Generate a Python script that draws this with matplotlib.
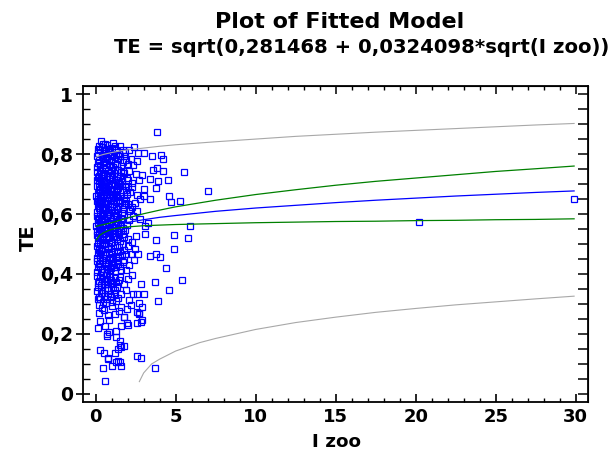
import matplotlib
matplotlib.use("Agg")
import matplotlib.pyplot as plt
from matplotlib.ticker import MultipleLocator, FuncFormatter

i_zoo = [
    0.12, 0.27, 0.69, 1.00, 1.54, 1.70, 2.40, 2.66, 0.35, 0.50, 0.85, 1.25, 0.20, 0.60, 1.10, 3.00, 0.45, 1.85, 3.85,
    0.10, 0.22, 0.38, 0.55, 0.70, 0.90, 1.05, 1.20, 1.40, 1.60, 1.80, 2.00, 2.56, 3.50, 4.10, 4.20, 0.30, 0.65, 0.15,
    0.48, 1.30, 2.20, 0.95, 1.70, 0.08, 2.35, 3.85, 0.80,
    0.10, 0.18, 0.28, 0.40, 0.52, 0.63, 0.75, 0.88, 1.00, 1.12, 1.25, 1.38, 1.50, 1.65, 1.80, 1.95, 2.10, 2.30, 2.50,
    2.90, 3.40, 3.90, 4.50, 5.50, 3.56, 4.20, 0.07, 0.34, 0.58, 0.82, 1.05, 1.45, 2.70, 0.22, 0.46, 0.95, 1.32, 1.72,
    2.05,
    0.09, 0.16, 0.25, 0.33, 0.42, 0.50, 0.60, 0.70, 0.80, 0.90, 1.00, 1.10, 1.20, 1.30, 1.42, 1.55, 1.68, 1.82, 1.96,
    2.14, 2.30, 2.60, 3.00, 3.00, 2.77, 3.40, 3.77, 4.58, 7.00, 0.05, 0.20, 0.38, 0.55, 0.66, 0.85, 0.97, 1.15, 1.36,
    1.50, 1.75, 2.00, 0.12, 0.28, 0.47, 0.74, 1.05,
    0.07, 0.15, 0.24, 0.30, 0.40, 0.48, 0.57, 0.66, 0.75, 0.84, 0.93, 1.02, 1.13, 1.25, 1.37, 1.50, 1.63, 1.78, 1.92,
    2.08, 2.27, 2.14, 2.45, 4.70, 5.30, 0.10, 0.20, 0.35, 0.52, 0.70, 0.88, 1.08, 1.20, 1.43, 1.70, 2.00, 2.60, 0.44,
    0.62,
    0.08, 0.14, 0.22, 0.30, 0.38, 0.46, 0.55, 0.64, 0.73, 0.82, 0.92, 1.02, 1.12, 1.24, 1.36, 1.50, 1.64, 1.80, 1.95,
    2.10, 2.80, 3.06, 5.90, 20.20, 0.05, 0.18, 0.26, 0.42, 0.60, 0.78, 0.97, 1.18, 1.42, 1.72, 2.35, 3.30,
    0.06, 0.12, 0.20, 0.28, 0.36, 0.45, 0.54, 0.63, 0.72, 0.82, 0.92, 1.02, 1.13, 1.25, 1.38, 1.52, 1.68, 1.85, 2.00,
    2.25, 2.50, 3.08, 3.77, 4.90, 5.75, 0.16, 0.40, 0.58, 0.77, 0.97, 1.20, 1.60, 0.10,
    0.07, 0.14, 0.22, 0.30, 0.38, 0.47, 0.56, 0.66, 0.76, 0.86, 0.97, 1.08, 1.20, 1.33, 1.47, 1.62, 1.80, 2.00, 2.20,
    2.46, 2.66, 3.40, 3.77, 4.00, 4.90, 0.10, 0.25, 0.50, 0.90, 1.40, 1.70,
    0.08, 0.15, 0.24, 0.33, 0.42, 0.52, 0.62, 0.73, 0.84, 0.95, 1.07, 1.20, 1.35, 1.50, 1.68, 1.90, 2.10, 2.40, 4.40,
    0.11, 0.30, 0.68, 1.00, 1.28, 1.80,
    0.09, 0.17, 0.26, 0.36, 0.46, 0.57, 0.68, 0.80, 0.92, 1.05, 1.20, 1.36, 1.55, 1.75, 2.00, 2.83, 3.70, 5.40, 0.13,
    0.50, 1.10, 2.30,
    0.10, 0.20, 0.32, 0.45, 0.58, 0.72, 0.88, 1.05, 1.22, 1.40, 1.60, 2.10, 2.35, 2.60, 3.00, 4.56, 3.90, 0.23, 1.30,
    2.70, 0.15, 0.65, 1.90,
    1.60, 1.44, 1.94, 2.58, 2.70, 2.90, 1.77, 1.80, 2.70, 0.40, 0.75, 1.00, 0.20, 1.20, 2.20, 0.55,
    0.27, 0.83, 1.97, 2.85, 2.60, 2.00, 1.30, 0.70, 0.58, 0.83, 2.90, 0.15, 1.60,
    0.69, 1.30, 1.50, 1.54, 1.80, 1.40, 1.60,
    0.25, 0.54, 1.20, 0.80, 0.77, 2.56, 2.83, 1.40, 1.27, 1.50, 1.00, 0.44, 1.56, 3.70, 0.60, 29.90,
]
te = [
    0.805, 0.813, 0.830, 0.821, 0.827, 0.813, 0.822, 0.802, 0.842, 0.815, 0.808, 0.812, 0.826, 0.803, 0.838, 0.804,
    0.834, 0.806, 0.874,
    0.792, 0.781, 0.797, 0.774, 0.788, 0.762, 0.795, 0.771, 0.784, 0.759, 0.792, 0.768, 0.777, 0.794, 0.797, 0.785,
    0.765, 0.756, 0.771, 0.787, 0.797, 0.783, 0.778, 0.775, 0.758, 0.763, 0.755, 0.799,
    0.741, 0.728, 0.746, 0.719, 0.735, 0.708, 0.744, 0.724, 0.703, 0.738, 0.715, 0.748, 0.727, 0.709, 0.736, 0.721,
    0.745, 0.705, 0.732, 0.730, 0.717, 0.710, 0.713, 0.739, 0.747, 0.742, 0.712, 0.702, 0.749, 0.716, 0.731, 0.704,
    0.714, 0.711, 0.730, 0.747, 0.727, 0.744, 0.712,
    0.692, 0.671, 0.684, 0.657, 0.698, 0.664, 0.680, 0.652, 0.694, 0.668, 0.683, 0.655, 0.697, 0.673, 0.688, 0.661,
    0.679, 0.694, 0.666, 0.675, 0.689, 0.662, 0.684, 0.659, 0.650, 0.650, 0.688, 0.660, 0.676, 0.661, 0.699, 0.677,
    0.691, 0.667, 0.656, 0.699, 0.679, 0.657, 0.699, 0.652, 0.691, 0.651, 0.665, 0.652, 0.689, 0.668,
    0.642, 0.628, 0.647, 0.612, 0.635, 0.603, 0.644, 0.621, 0.638, 0.607, 0.646, 0.625, 0.612, 0.641, 0.618, 0.636,
    0.605, 0.629, 0.645, 0.611, 0.623, 0.617, 0.637, 0.640, 0.642, 0.606, 0.619, 0.648, 0.625, 0.601, 0.632, 0.648,
    0.603, 0.645, 0.617, 0.632, 0.609, 0.617, 0.634,
    0.592, 0.571, 0.588, 0.556, 0.597, 0.565, 0.582, 0.551, 0.594, 0.569, 0.586, 0.558, 0.598, 0.574, 0.589, 0.561,
    0.583, 0.596, 0.565, 0.579, 0.584, 0.560, 0.561, 0.572, 0.560, 0.553, 0.599, 0.576, 0.566, 0.553, 0.576, 0.553,
    0.571, 0.555, 0.592, 0.570,
    0.543, 0.521, 0.538, 0.507, 0.547, 0.515, 0.532, 0.502, 0.544, 0.519, 0.536, 0.508, 0.548, 0.525, 0.541, 0.511,
    0.533, 0.546, 0.516, 0.507, 0.527, 0.535, 0.512, 0.529, 0.520, 0.503, 0.528, 0.549, 0.526, 0.503, 0.536, 0.548,
    0.531,
    0.492, 0.471, 0.488, 0.457, 0.496, 0.466, 0.483, 0.452, 0.494, 0.470, 0.486, 0.458, 0.497, 0.474, 0.489, 0.462,
    0.481, 0.494, 0.468, 0.482, 0.465, 0.461, 0.466, 0.458, 0.482, 0.453, 0.462, 0.499, 0.453, 0.455, 0.499,
    0.443, 0.422, 0.438, 0.407, 0.447, 0.416, 0.434, 0.403, 0.445, 0.420, 0.437, 0.409, 0.446, 0.425, 0.440, 0.412,
    0.431, 0.448, 0.421, 0.405, 0.427, 0.418, 0.449, 0.424, 0.446,
    0.392, 0.371, 0.389, 0.357, 0.396, 0.366, 0.383, 0.352, 0.394, 0.370, 0.386, 0.358, 0.391, 0.368, 0.382, 0.367,
    0.374, 0.380, 0.356, 0.378, 0.355, 0.397,
    0.343, 0.322, 0.338, 0.308, 0.346, 0.317, 0.334, 0.306, 0.345, 0.321, 0.332, 0.312, 0.334, 0.334, 0.334, 0.345,
    0.311, 0.296, 0.309, 0.303, 0.315, 0.302, 0.348,
    0.290, 0.278, 0.282, 0.273, 0.267, 0.289, 0.258, 0.256, 0.270, 0.285, 0.262, 0.293, 0.270, 0.268, 0.296, 0.280,
    0.243, 0.245, 0.238, 0.239, 0.236, 0.231, 0.210, 0.200, 0.227, 0.206, 0.245, 0.220, 0.225,
    0.194, 0.191, 0.175, 0.162, 0.160, 0.151, 0.158,
    0.146, 0.135, 0.136, 0.119, 0.118, 0.127, 0.121, 0.110, 0.108, 0.108, 0.092, 0.087, 0.092, 0.085, 0.044, 0.650,
]

# more points in the dense core (x below 2)
core_zoo = [
    0.13, 0.42, 0.78, 1.18, 0.95, 0.58, 1.45, 2.10, 0.26, 0.44, 0.62, 0.85, 1.10, 1.35, 1.52, 1.90,
    0.14, 0.35, 0.68, 0.90, 1.18, 1.58, 1.40, 0.50, 0.18, 0.45, 0.72, 0.95, 1.25, 1.62, 0.30, 1.90,
    0.19, 0.37, 0.60, 0.80, 0.98, 1.30, 1.55, 1.85, 0.12, 0.33, 0.50, 0.70, 0.88, 1.06, 1.30, 1.58,
    0.24, 0.48, 0.67, 0.87, 1.08, 1.32, 1.45, 1.80, 0.18, 0.35, 0.60, 0.80, 1.02, 1.25, 1.55, 1.90,
    0.20, 0.38, 0.56, 0.78, 0.90, 1.12, 1.42, 1.60, 0.22, 0.40, 0.62, 0.74, 0.98, 1.28, 1.45, 0.33,
    0.28, 0.50, 0.80, 0.96, 1.12, 0.40,
]
core_te = [
    0.817, 0.822, 0.818, 0.826, 0.801, 0.832, 0.801, 0.812, 0.757, 0.763, 0.790, 0.781, 0.757, 0.768, 0.793, 0.779,
    0.723, 0.734, 0.727, 0.736, 0.747, 0.741, 0.715, 0.706, 0.681, 0.686, 0.672, 0.676, 0.662, 0.692, 0.672, 0.680,
    0.636, 0.622, 0.612, 0.645, 0.613, 0.628, 0.648, 0.637, 0.584, 0.580, 0.592, 0.579, 0.598, 0.582, 0.562, 0.588,
    0.524, 0.538, 0.518, 0.546, 0.527, 0.517, 0.533, 0.525, 0.480, 0.478, 0.468, 0.483, 0.474, 0.460, 0.477, 0.467,
    0.432, 0.418, 0.441, 0.428, 0.411, 0.424, 0.432, 0.413, 0.378, 0.384, 0.395, 0.368, 0.379, 0.372, 0.381, 0.362,
    0.318, 0.326, 0.348, 0.324, 0.334, 0.338,
]

# fitted line and limits
curve_x = [0.05, 0.25, 0.5, 1, 1.5, 2, 3, 4, 5, 7.5, 10, 12.5, 15, 17.5, 20, 22.5, 25, 27.5, 29.9]
fit_te = [0.537, 0.546, 0.552, 0.560, 0.567, 0.572, 0.581, 0.589, 0.595, 0.609, 0.620, 0.629, 0.638, 0.646,
          0.653, 0.660, 0.666, 0.672, 0.677]
conf_hi = [0.559, 0.562, 0.565, 0.571, 0.579, 0.587, 0.601, 0.613, 0.624, 0.646, 0.665, 0.681, 0.696, 0.709,
           0.720, 0.731, 0.742, 0.751, 0.760]
conf_lo = [0.514, 0.529, 0.538, 0.549, 0.554, 0.557, 0.561, 0.563, 0.565, 0.568, 0.571, 0.573, 0.575, 0.576,
           0.578, 0.579, 0.581, 0.582, 0.584]
pred_hi = [0.790, 0.795, 0.799, 0.805, 0.810, 0.814, 0.820, 0.826, 0.831, 0.841, 0.850, 0.859, 0.866, 0.873,
           0.879, 0.885, 0.891, 0.897, 0.902]
pred_lo_x = [2.73, 3.0, 3.5, 4, 5, 6.5, 7.5, 10, 12.5, 15, 17.5, 20, 22.5, 25, 27.5, 29.9]
pred_lo = [0.041, 0.070, 0.100, 0.116, 0.143, 0.171, 0.185, 0.215, 0.238, 0.256, 0.272, 0.285, 0.297, 0.307,
           0.317, 0.326]

title_1 = "Plot of Fitted Model"
title_2 = "TE = sqrt(0,281468 + 0,0324098*sqrt(I zoo))"

plt.rcParams["font.family"] = ["DejaVu Sans"]
plt.rcParams["font.weight"] = "bold"

fig = plt.figure(figsize=(6.16, 4.51), dpi=100)
# axes box: left 82.7, right 587.7, top 85.7, bottom 402 (pixels)
ax = fig.add_axes([82.7 / 616, 1 - 402 / 451, 505 / 616, 316.3 / 451])

marker_style = dict(linestyle="none", marker="s", markersize=3.7, markerfacecolor="none",
                    markeredgecolor="#0000ff", markeredgewidth=0.9)
ax.plot(i_zoo, te, **marker_style)
ax.plot(core_zoo, core_te, **marker_style)
ax.plot(curve_x, pred_hi, color="#a8a8a8", lw=0.8)
ax.plot(pred_lo_x, pred_lo, color="#a8a8a8", lw=0.8)
ax.plot(curve_x, conf_hi, color="#008000", lw=0.9)
ax.plot(curve_x, conf_lo, color="#008000", lw=0.9)
ax.plot(curve_x, fit_te, color="#0000ff", lw=0.9)

ax.set_xlim(-0.81, 30.75)
ax.set_ylim(-0.027, 1.028)

ax.xaxis.set_major_locator(MultipleLocator(5))
ax.xaxis.set_minor_locator(MultipleLocator(1))
ax.yaxis.set_major_locator(MultipleLocator(0.2))
ax.yaxis.set_minor_locator(MultipleLocator(0.05))


def comma_fmt(v, pos):
    if abs(v) < 1e-9:
        return "0"
    if abs(v - round(v)) < 1e-9:
        return str(int(round(v)))
    return ("%g" % v).replace(".", ",")


ax.xaxis.set_major_formatter(FuncFormatter(comma_fmt))
ax.yaxis.set_major_formatter(FuncFormatter(comma_fmt))

ax.tick_params(axis="y", which="major", direction="inout", length=10, width=1.2, labelsize=13.5, pad=2)
ax.tick_params(axis="y", which="minor", direction="in", length=5, width=1.0)
ax.tick_params(axis="x", which="major", direction="in", length=6, width=1.2, labelsize=13, pad=4.5)
ax.tick_params(axis="x", which="minor", direction="in", length=3, width=1.0)

for s in ax.spines.values():
    s.set_linewidth(1.3)

# ticks on the right and on top, no labels
right = ax.secondary_yaxis("right")
right.yaxis.set_major_locator(MultipleLocator(0.2))
right.yaxis.set_minor_locator(MultipleLocator(0.05))
right.tick_params(which="both", direction="in", length=7, width=1.1, labelright=False)
top = ax.secondary_xaxis("top")
top.xaxis.set_major_locator(MultipleLocator(5))
top.xaxis.set_minor_locator(MultipleLocator(1))
top.tick_params(which="major", direction="in", length=6, width=1.1, labeltop=False)
top.tick_params(which="minor", direction="in", length=3, width=1.0)

fig.text(340 / 616, 1 - 28 / 451, title_1, ha="center", va="baseline", fontsize=16, fontweight="bold")
fig.text(362 / 616, 1 - 53 / 451, title_2, ha="center", va="baseline", fontsize=14.1, fontweight="bold")
fig.text(336 / 616, 1 - 450.6 / 451, "I zoo", ha="center", va="bottom", fontsize=13.2, fontweight="bold")
fig.text(28 / 616, 1 - 238 / 451, "TE", ha="center", va="center", rotation=90, fontsize=14,
         fontweight="bold")

fig.savefig("out.png", dpi=100)
